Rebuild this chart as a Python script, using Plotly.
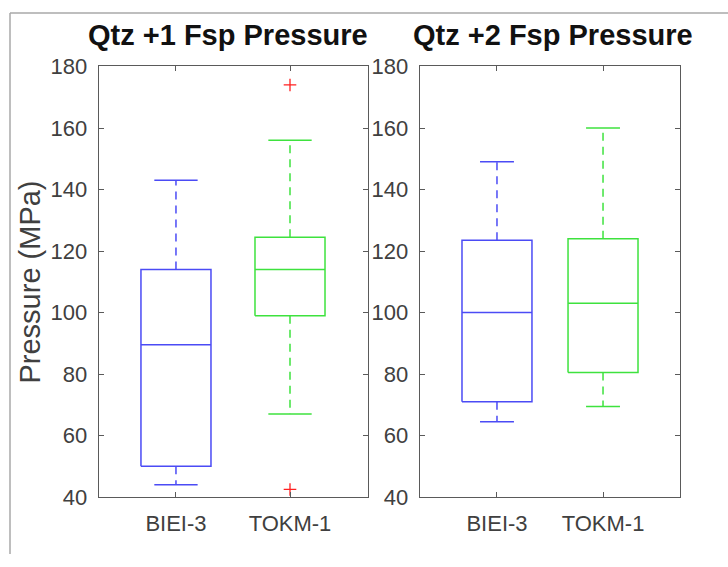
import plotly.graph_objects as go

# ---- data ----
categories = ["BIEI-3", "TOKM-1"]
panel_titles = ["Qtz +1 Fsp Pressure", "Qtz +2 Fsp Pressure"]
y_title = "Pressure (MPa)"
y_ticks = [40, 60, 80, 100, 120, 140, 160, 180]

p1_lower = [44, 67]
p1_q1 = [50, 99]
p1_median = [89.5, 114]
p1_q3 = [114, 124.5]
p1_upper = [143, 156]
p1_outliers = [[], [174, 42.5]]

p2_lower = [64.5, 69.5]
p2_q1 = [71, 80.5]
p2_median = [100, 103]
p2_q3 = [123.5, 124]
p2_upper = [149, 160]
p2_outliers = [[], []]

# ---- styling ----
W, H = 728, 567
colors = ["#4b4bf5", "#3ee23e"]
axis_color = "#5a5a5a"
FONT = "Liberation Sans, Arial, sans-serif"
tick_font = dict(family=FONT, size=22, color="#404040")

panels = [
    dict(lower=p1_lower, q1=p1_q1, med=p1_median, q3=p1_q3, upper=p1_upper, out=p1_outliers,
         xd=(99, 368), xr=(0.325, 2.684), bh=0.307, ch=0.19, tx=228),
    dict(lower=p2_lower, q1=p2_q1, med=p2_median, q3=p2_q3, upper=p2_upper, out=p2_outliers,
         xd=(420, 680), xr=(0.274, 2.726), bh=0.33, ch=0.16, tx=553),
]
y_top_px, y_bot_px = 57, 507.5

fig = go.Figure()
positions = [1, 2]

for k, pn in enumerate(panels):
    xa = "x" if k == 0 else "x2"
    ya = "y" if k == 0 else "y2"
    for i, p in enumerate(positions):
        c = colors[i]
        bh, ch = pn["bh"], pn["ch"]
        # box + median
        fig.add_trace(go.Scatter(
            x=[p - bh, p + bh, p + bh, p - bh, p - bh, None, p - bh, p + bh],
            y=[pn["q1"][i], pn["q1"][i], pn["q3"][i], pn["q3"][i], pn["q1"][i], None,
               pn["med"][i], pn["med"][i]],
            mode="lines", line=dict(color=c, width=1.5), xaxis=xa, yaxis=ya,
            showlegend=False, hoverinfo="skip"))
        # dashed whiskers
        fig.add_trace(go.Scatter(
            x=[p, p, None, p, p],
            y=[pn["q3"][i], pn["upper"][i], None, pn["q1"][i], pn["lower"][i]],
            mode="lines", line=dict(color=c, width=1.5, dash="8px,6px"), xaxis=xa, yaxis=ya,
            showlegend=False, hoverinfo="skip"))
        # caps
        fig.add_trace(go.Scatter(
            x=[p - ch, p + ch, None, p - ch, p + ch],
            y=[pn["upper"][i], pn["upper"][i], None, pn["lower"][i], pn["lower"][i]],
            mode="lines", line=dict(color=c, width=1.5), xaxis=xa, yaxis=ya,
            showlegend=False, hoverinfo="skip"))
        if pn["out"][i]:
            fig.add_trace(go.Scatter(
                x=[p] * len(pn["out"][i]), y=pn["out"][i], mode="markers",
                marker=dict(symbol="cross-thin", size=9, line=dict(color="#ff2020", width=1.3)),
                xaxis=xa, yaxis=ya, showlegend=False, hoverinfo="skip"))

ydom = [1 - y_bot_px / H, 1 - y_top_px / H]
common_x = dict(tickmode="array", tickvals=positions, ticktext=categories,
                ticks="inside", ticklen=5, tickcolor=axis_color, mirror="ticks",
                showline=True, linecolor=axis_color, linewidth=1.3, showgrid=False,
                zeroline=False, tickfont=tick_font, ticklabelstandoff=6)
common_y = dict(tickmode="array", tickvals=y_ticks, range=[40, 180],
                ticks="inside", ticklen=5, tickcolor=axis_color, mirror="ticks",
                showline=True, linecolor=axis_color, linewidth=1.3, showgrid=False,
                zeroline=False, tickfont=tick_font, ticklabelstandoff=6)

annotations = []
for k, pn in enumerate(panels):
    annotations.append(dict(text="<b>" + panel_titles[k] + "</b>", x=pn["tx"] / W, y=1 - 24 / H,
                            xref="paper", yref="paper", showarrow=False, xanchor="center",
                            yanchor="middle",
                            font=dict(family=FONT, size=29, color="#111111")))
annotations.append(dict(text=y_title, x=30 / W, y=1 - 283 / H, xref="paper", yref="paper",
                        showarrow=False, textangle=-90, xanchor="center", yanchor="middle",
                        font=dict(family=FONT, size=29, color="#404040")))

fig.update_layout(
    width=W, height=H, margin=dict(l=0, r=0, t=0, b=0),
    paper_bgcolor="white", plot_bgcolor="white",
    xaxis=dict(domain=[panels[0]["xd"][0] / W, panels[0]["xd"][1] / W],
               range=list(panels[0]["xr"]), anchor="y", **common_x),
    yaxis=dict(domain=ydom, anchor="x", **common_y),
    xaxis2=dict(domain=[panels[1]["xd"][0] / W, panels[1]["xd"][1] / W],
                range=list(panels[1]["xr"]), anchor="y2", **common_x),
    yaxis2=dict(domain=ydom, anchor="x2", **common_y),
    annotations=annotations,
    shapes=[
        dict(type="line", xref="paper", yref="paper", x0=10 / W, x1=1, y0=1 - 1 / H, y1=1 - 1 / H,
             line=dict(color="#a8a8a8", width=1.5)),
        dict(type="line", xref="paper", yref="paper", x0=10 / W, x1=10 / W, y0=0, y1=1 - 1 / H,
             line=dict(color="#a8a8a8", width=1.5)),
    ],
)

fig.write_html(
    "out.html",
    config={"displayModeBar": False, "staticPlot": True},
    post_script=(
        "var s=document.documentElement.style;s.margin='0';s.padding='0';s.overflow='hidden';"
        "var b=document.body.style;b.margin='0';b.padding='0';b.overflow='hidden';"
    ),
)
